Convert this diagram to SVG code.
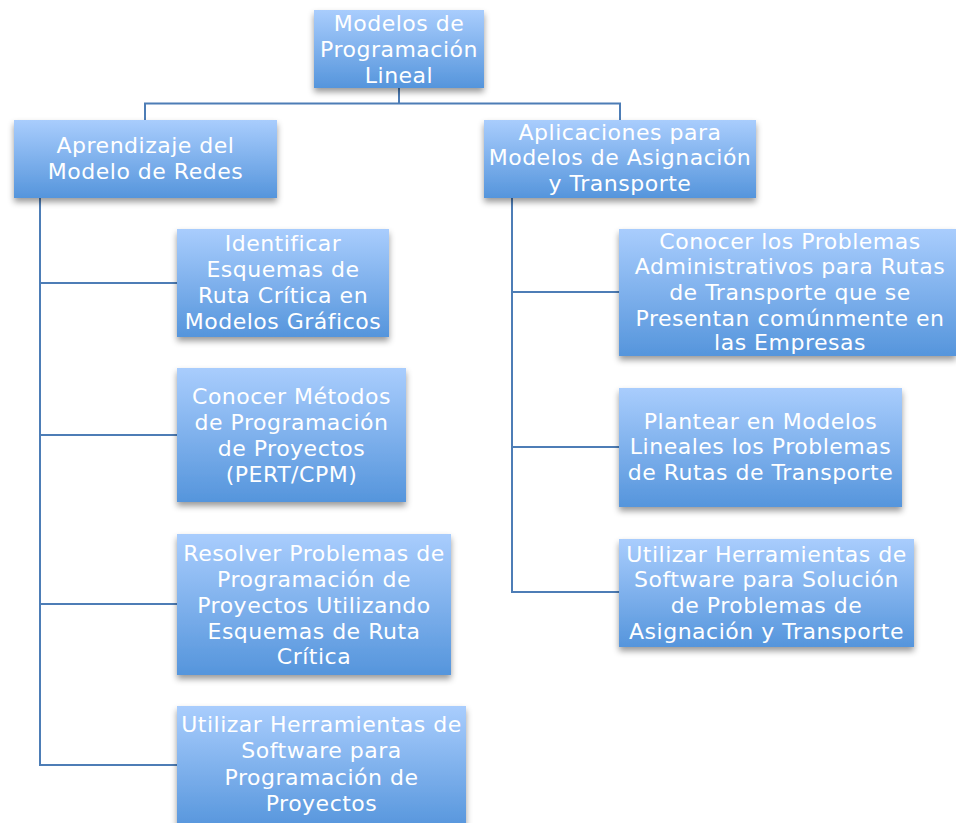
<svg xmlns="http://www.w3.org/2000/svg" width="956" height="823" viewBox="0 0 956 823">
<defs>
<linearGradient id="g" x1="0" y1="0" x2="0" y2="1">
<stop offset="0" stop-color="#a9cdfd"/>
<stop offset="1" stop-color="#5595dc"/>
</linearGradient>
<filter id="sh" x="-10%" y="-10%" width="120%" height="130%">
<feDropShadow dx="0" dy="4" stdDeviation="3" flood-color="#000" flood-opacity="0.4"/>
</filter>
</defs>
<style>
.box{fill:url(#g);filter:url(#sh)}
.t{font-family:"DejaVu Sans","Liberation Sans",sans-serif;font-size:22px;letter-spacing:0.5px;fill:#fff;text-anchor:middle}
.c{fill:none;stroke:#4d7db6;stroke-width:2}
</style>
<rect width="956" height="823" fill="#fff"/>
<g id="connectors">
<path class="c" d="M399 88V103.5M145 120V103.5H620V120"/>
<path class="c" d="M40 198V765H177M40 283H177M40 435H177M40 604H177"/>
<path class="c" d="M512 198V592H619M512 292H619M512 447H619"/>
</g>
<g id="n0"><rect class="box" x="314" y="10" width="170" height="78"/>
<text class="t"><tspan x="399" y="30.5">Modelos de</tspan><tspan x="399" y="56.5">Programación</tspan><tspan x="399" y="82.5">Lineal</tspan></text></g>
<g id="n1"><rect class="box" x="14" y="120" width="263" height="78"/>
<text class="t"><tspan x="145.5" y="152.5">Aprendizaje del</tspan><tspan x="145.5" y="178.5">Modelo de Redes</tspan></text></g>
<g id="n2"><rect class="box" x="484" y="120" width="272" height="78"/>
<text class="t"><tspan x="620" y="140">Aplicaciones para</tspan><tspan x="620" y="165">Modelos de Asignación</tspan><tspan x="620" y="191">y Transporte</tspan></text></g>
<g id="n3"><rect class="box" x="177" y="229" width="212" height="108"/>
<text class="t"><tspan x="283" y="251">Identificar</tspan><tspan x="283" y="277">Esquemas de</tspan><tspan x="283" y="303">Ruta Crítica en</tspan><tspan x="283" y="329">Modelos Gráficos</tspan></text></g>
<g id="n4"><rect class="box" x="177" y="368" width="229" height="134"/>
<text class="t"><tspan x="291.5" y="404">Conocer Métodos</tspan><tspan x="291.5" y="430">de Programación</tspan><tspan x="291.5" y="456">de Proyectos</tspan><tspan x="291.5" y="482">(PERT/CPM)</tspan></text></g>
<g id="n5"><rect class="box" x="177" y="534" width="274" height="141"/>
<text class="t"><tspan x="314" y="561">Resolver Problemas de</tspan><tspan x="314" y="587">Programación de</tspan><tspan x="314" y="613">Proyectos Utilizando</tspan><tspan x="314" y="639">Esquemas de Ruta</tspan><tspan x="314" y="664">Crítica</tspan></text></g>
<g id="n6"><rect class="box" x="177" y="706" width="289" height="124"/>
<text class="t"><tspan x="321.5" y="732">Utilizar Herramientas de</tspan><tspan x="321.5" y="758">Software para</tspan><tspan x="321.5" y="785">Programación de</tspan><tspan x="321.5" y="811">Proyectos</tspan></text></g>
<g id="n7"><rect class="box" x="619" y="229" width="337" height="127"/>
<text class="t"><tspan x="790" y="249">Conocer los Problemas</tspan><tspan x="790" y="274">Administrativos para Rutas</tspan><tspan x="790" y="300">de Transporte que se</tspan><tspan x="790" y="326">Presentan comúnmente en</tspan><tspan x="790" y="350">las Empresas</tspan></text></g>
<g id="n8"><rect class="box" x="619" y="388" width="283" height="119"/>
<text class="t"><tspan x="760.5" y="429">Plantear en Modelos</tspan><tspan x="760.5" y="454">Lineales los Problemas</tspan><tspan x="760.5" y="480">de Rutas de Transporte</tspan></text></g>
<g id="n9"><rect class="box" x="619" y="539" width="295" height="108"/>
<text class="t"><tspan x="766.5" y="562">Utilizar Herramientas de</tspan><tspan x="766.5" y="587">Software para Solución</tspan><tspan x="766.5" y="613">de Problemas de</tspan><tspan x="766.5" y="639">Asignación y Transporte</tspan></text></g>
</svg>
